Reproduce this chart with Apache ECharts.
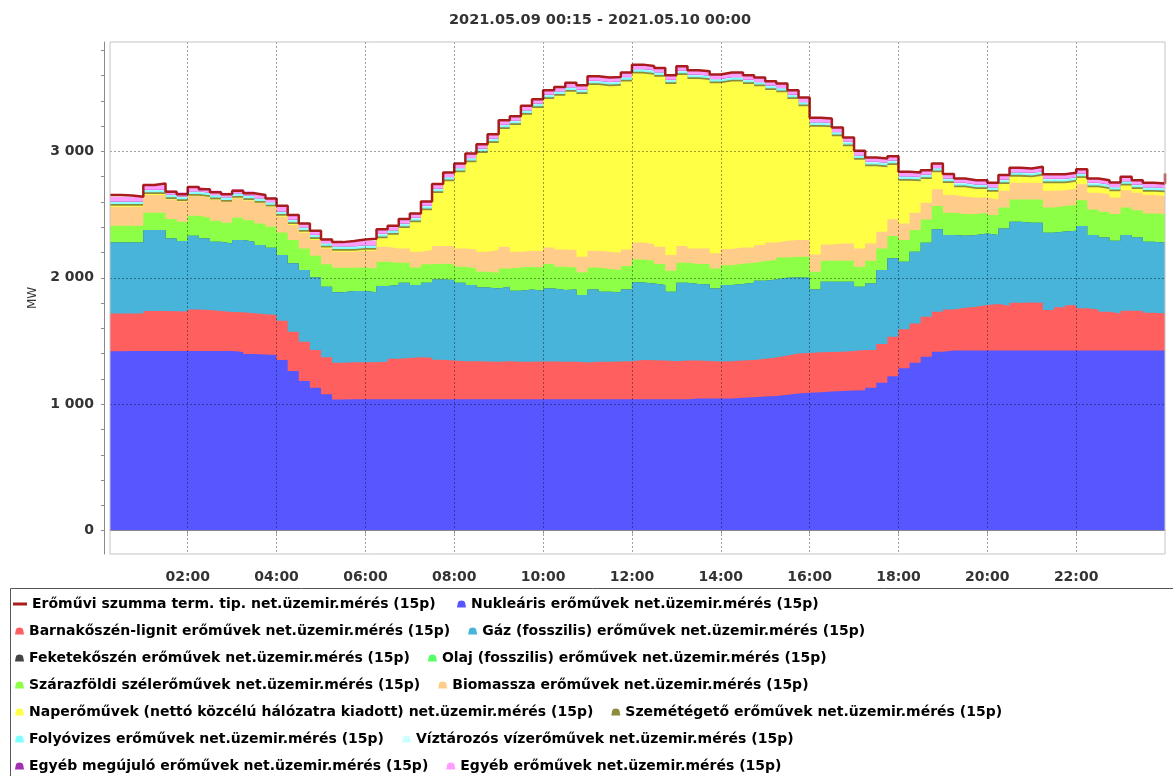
<!DOCTYPE html>
<html>
<head>
<meta charset="utf-8">
<script src="https://cdn.jsdelivr.net/npm/echarts@6/dist/echarts.min.js"></script>
<style>
  html, body { margin: 0; padding: 0; background: #ffffff; }
  #chart { width: 1173px; height: 776px; }
</style>
</head>
<body>
<div id="chart"></div>
<script>
// Hungarian generation mix, 15-minute net operational measurements (MW)
const chartTitle = '2021.05.09 00:15 - 2021.05.10 00:00';
const firstMinute = 15;      // first interval ends at 00:15
const stepMinutes = 15;
const pointCount = 96;
const hourTickLabels = ['02:00', '04:00', '06:00', '08:00', '10:00', '12:00', '14:00', '16:00', '18:00', '20:00', '22:00'];
const yMajorTicks = [0, 1000, 2000, 3000];
const yMinorTicks = [200, 400, 600, 800, 1200, 1400, 1600, 1800, 2200, 2400, 2600, 2800, 3200, 3400, 3600, 3800];

const total = [
  2655, 2650, 2640, 2733, 2746, 2680, 2661, 2719, 2700, 2677, 2661, 2688,
  2668, 2655, 2628, 2570, 2496, 2430, 2372, 2303, 2282, 2290, 2303, 2308,
  2383, 2411, 2464, 2509, 2604, 2741, 2833, 2904, 2983, 3057, 3136, 3247,
  3278, 3360, 3413, 3484, 3510, 3542, 3523, 3594, 3584, 3589, 3623, 3686,
  3676, 3660, 3602, 3673, 3642, 3634, 3608, 3623, 3623, 3602, 3584, 3555,
  3537, 3484, 3426, 3265, 3260, 3189, 3110, 3004, 2952, 2944, 2962, 2838,
  2833, 2851, 2904, 2820, 2786, 2772, 2772, 2751, 2812, 2870, 2865, 2878,
  2818, 2818, 2830, 2859, 2786, 2772, 2754, 2799, 2772, 2751, 2746, 2825
];
const nuclear = [
  1418, 1420, 1420, 1420, 1420, 1420, 1420, 1420, 1420, 1420, 1420, 1413,
  1397, 1394, 1389, 1349, 1262, 1183, 1130, 1078, 1038, 1040, 1040, 1040,
  1040, 1040, 1040, 1040, 1040, 1040, 1040, 1040, 1040, 1040, 1040, 1040,
  1040, 1040, 1040, 1040, 1040, 1040, 1040, 1040, 1040, 1040, 1040, 1040,
  1040, 1040, 1040, 1040, 1045, 1045, 1045, 1045, 1050, 1055, 1060, 1065,
  1075, 1085, 1090, 1095, 1100, 1105, 1108, 1110, 1130, 1170, 1222, 1284,
  1328, 1376, 1415, 1425, 1425, 1425, 1425, 1425, 1425, 1425, 1425, 1425,
  1425, 1425, 1425, 1425, 1425, 1425, 1425, 1425, 1425, 1425, 1425, 1425
];
const lignite = [
  300, 298, 298, 317, 317, 315, 313, 330, 325, 318, 310, 315,
  323, 318, 316, 311, 311, 311, 298, 293, 290, 291, 291, 291,
  296, 320, 325, 332, 328, 312, 305, 300, 300, 298, 295, 300,
  295, 295, 298, 298, 295, 295, 290, 295, 295, 298, 300, 310,
  308, 305, 300, 305, 300, 297, 293, 295, 295, 295, 300, 305,
  310, 315, 315, 315, 312, 310, 312, 318, 298, 306, 312, 308,
  311, 316, 316, 325, 338, 346, 359, 367, 354, 378, 380, 378,
  320, 341, 357, 333, 325, 306, 293, 315, 315, 299, 293, 293
];
const gas = [
  562, 562, 562, 640, 640, 576, 557, 582, 566, 547, 542, 570,
  565, 547, 532, 520, 541, 567, 575, 558, 557, 564, 564, 554,
  598, 582, 595, 570, 592, 635, 637, 620, 602, 586, 581, 589,
  562, 573, 559, 578, 568, 573, 533, 573, 555, 547, 568, 613,
  607, 597, 550, 615, 605, 605, 578, 602, 605, 610, 616, 617,
  615, 603, 595, 498, 556, 553, 548, 501, 527, 585, 621, 535,
  567, 585, 652, 588, 569, 567, 567, 546, 611, 640, 630, 632,
  611, 601, 590, 651, 588, 588, 575, 598, 579, 561, 559, 559
];
const blackCoal = [
  0, 0, 0, 0, 0, 0, 0, 0, 0, 0, 0, 0,
  0, 0, 0, 0, 0, 0, 0, 0, 0, 0, 0, 0,
  0, 0, 0, 0, 0, 0, 0, 0, 0, 0, 0, 0,
  0, 0, 0, 0, 0, 0, 0, 0, 0, 0, 0, 0,
  0, 0, 0, 0, 0, 0, 0, 0, 0, 0, 0, 0,
  0, 0, 0, 0, 0, 0, 0, 0, 0, 0, 0, 0,
  0, 0, 0, 0, 0, 0, 0, 0, 0, 0, 0, 0,
  0, 0, 0, 0, 0, 0, 0, 0, 0, 0, 0, 0
];
const oil = [
  0, 0, 0, 0, 0, 0, 0, 0, 0, 0, 0, 0,
  0, 0, 0, 0, 0, 0, 0, 0, 0, 0, 0, 0,
  0, 0, 0, 0, 0, 0, 0, 0, 0, 0, 0, 0,
  0, 0, 0, 0, 0, 0, 0, 0, 0, 0, 0, 0,
  0, 0, 0, 0, 0, 0, 0, 0, 0, 0, 0, 0,
  0, 0, 0, 0, 0, 0, 0, 0, 0, 0, 0, 0,
  0, 0, 0, 0, 0, 0, 0, 0, 0, 0, 0, 0,
  0, 0, 0, 0, 0, 0, 0, 0, 0, 0, 0, 0
];
const wind = [
  131, 131, 131, 137, 137, 153, 153, 158, 164, 166, 163, 177,
  171, 171, 167, 179, 184, 171, 171, 177, 194, 184, 187, 189,
  193, 177, 159, 140, 146, 124, 124, 127, 132, 124, 124, 145,
  185, 179, 185, 192, 184, 174, 180, 174, 179, 176, 185, 182,
  180, 166, 166, 159, 158, 161, 158, 158, 161, 159, 156, 153,
  161, 163, 166, 140, 167, 167, 167, 158, 180, 171, 176, 171,
  171, 184, 184, 176, 172, 166, 163, 158, 166, 177, 185, 185,
  200, 200, 203, 205, 203, 203, 211, 218, 216, 224, 227, 227
];
const biomass = [
  150, 150, 150, 140, 140, 156, 161, 156, 160, 166, 164, 155,
  156, 161, 157, 123, 119, 124, 124, 126, 127, 127, 132, 140,
  118, 113, 113, 124, 113, 140, 145, 145, 150, 158, 179, 171,
  124, 127, 129, 132, 137, 137, 123, 132, 137, 139, 131, 135,
  132, 137, 124, 132, 124, 124, 119, 127, 129, 121, 127, 140,
  132, 132, 132, 137, 129, 137, 137, 145, 137, 132, 132, 132,
  137, 132, 134, 140, 137, 131, 121, 124, 132, 131, 131, 131,
  132, 126, 132, 126, 131, 140, 131, 137, 137, 145, 142, 142
];
const solar = [
  8, 8, 8, 8, 8, 3, 3, 3, 3, 3, 3, 3,
  3, 3, 3, 8, 8, 8, 8, 8, 8, 8, 8, 8,
  68, 109, 162, 233, 315, 420, 512, 602, 689, 781, 847, 932,
  1002, 1076, 1132, 1174, 1216, 1253, 1287, 1310, 1308, 1319, 1329, 1336,
  1339, 1345, 1352, 1352, 1340, 1332, 1345, 1326, 1313, 1292, 1255, 1205,
  1174, 1116, 1058, 1010, 926, 847, 768, 702, 610, 510, 429, 338,
  249, 188, 133, 96, 75, 67, 67, 61, 54, 49, 44, 57,
  60, 55, 53, 49, 44, 40, 49, 36, 30, 27, 30, 30
];
const waste = [
  14, 14, 14, 14, 14, 14, 14, 14, 14, 14, 14, 14,
  14, 14, 14, 14, 14, 14, 14, 14, 14, 14, 14, 14,
  14, 14, 14, 14, 14, 14, 14, 14, 14, 14, 14, 14,
  14, 14, 14, 14, 14, 14, 14, 14, 14, 14, 14, 14,
  14, 14, 14, 14, 14, 14, 14, 14, 14, 14, 14, 14,
  14, 14, 14, 14, 14, 14, 14, 14, 14, 14, 14, 14,
  14, 14, 14, 14, 14, 14, 14, 14, 14, 14, 14, 14,
  14, 14, 14, 14, 14, 14, 14, 14, 14, 14, 14, 14
];
const runOfRiver = [
  14, 14, 14, 14, 14, 14, 14, 14, 14, 14, 14, 14,
  14, 14, 14, 14, 14, 14, 14, 14, 14, 14, 14, 14,
  14, 14, 14, 14, 14, 14, 14, 14, 14, 14, 14, 14,
  14, 14, 14, 14, 14, 14, 14, 14, 14, 14, 14, 14,
  14, 14, 14, 14, 14, 14, 14, 14, 14, 14, 14, 14,
  14, 14, 14, 14, 14, 14, 14, 14, 14, 14, 14, 14,
  14, 14, 14, 14, 14, 14, 14, 14, 14, 14, 14, 14,
  14, 14, 14, 14, 14, 14, 14, 14, 14, 14, 14, 14
];
const reservoir = [
  5, 5, 5, 5, 5, 5, 5, 5, 5, 5, 5, 5,
  5, 5, 5, 5, 5, 5, 5, 5, 5, 5, 5, 5,
  5, 5, 5, 5, 5, 5, 5, 5, 5, 5, 5, 5,
  5, 5, 5, 5, 5, 5, 5, 5, 5, 5, 5, 5,
  5, 5, 5, 5, 5, 5, 5, 5, 5, 5, 5, 5,
  5, 5, 5, 5, 5, 5, 5, 5, 5, 5, 5, 5,
  5, 5, 5, 5, 5, 5, 5, 5, 5, 5, 5, 5,
  5, 5, 5, 5, 5, 5, 5, 5, 5, 5, 5, 5
];
const otherRenewable = [
  2, 2, 2, 2, 2, 2, 2, 2, 2, 2, 2, 2,
  2, 2, 2, 2, 2, 2, 2, 2, 2, 2, 2, 2,
  2, 2, 2, 2, 2, 2, 2, 2, 2, 2, 2, 2,
  2, 2, 2, 2, 2, 2, 2, 2, 2, 2, 2, 2,
  2, 2, 2, 2, 2, 2, 2, 2, 2, 2, 2, 2,
  2, 2, 2, 2, 2, 2, 2, 2, 2, 2, 2, 2,
  2, 2, 2, 2, 2, 2, 2, 2, 2, 2, 2, 2,
  2, 2, 2, 2, 2, 2, 2, 2, 2, 2, 2, 2
];
const other = [
  35, 35, 35, 35, 35, 35, 35, 35, 35, 35, 35, 35,
  35, 35, 35, 35, 35, 35, 35, 35, 35, 35, 35, 35,
  35, 35, 35, 35, 35, 35, 35, 35, 35, 35, 35, 35,
  35, 35, 35, 35, 35, 35, 35, 35, 35, 35, 35, 35,
  35, 35, 35, 35, 35, 35, 35, 35, 35, 35, 35, 35,
  35, 35, 35, 35, 35, 35, 35, 35, 35, 35, 35, 35,
  35, 35, 35, 35, 35, 35, 35, 35, 35, 35, 35, 35,
  35, 35, 35, 35, 35, 35, 35, 35, 35, 35, 35, 35
];

// Series names (legend texts) and colours, bottom of the stack first
const totalName = 'Erőművi szumma term. tip. net.üzemir.mérés (15p)';
const stackNames = [
  'Nukleáris erőművek net.üzemir.mérés (15p)',
  'Barnakőszén-lignit erőművek net.üzemir.mérés (15p)',
  'Gáz (fosszilis) erőművek net.üzemir.mérés (15p)',
  'Feketekőszén erőművek net.üzemir.mérés (15p)',
  'Olaj (fosszilis) erőművek net.üzemir.mérés (15p)',
  'Szárazföldi szélerőművek net.üzemir.mérés (15p)',
  'Biomassza erőművek net.üzemir.mérés (15p)',
  'Naperőművek (nettó közcélú hálózatra kiadott) net.üzemir.mérés (15p)',
  'Szemétégető erőművek net.üzemir.mérés (15p)',
  'Folyóvizes erőművek net.üzemir.mérés (15p)',
  'Víztározós vízerőművek net.üzemir.mérés (15p)',
  'Egyéb megújuló erőművek net.üzemir.mérés (15p)',
  'Egyéb erőművek net.üzemir.mérés (15p)'
];
const stackValues = [nuclear, lignite, gas, blackCoal, oil, wind, biomass, solar, waste, runOfRiver, reservoir, otherRenewable, other];
const stackColors = ['#5757ff', '#ff5f5f', '#49b4d9', '#444444', '#55ff66', '#8cff46', '#ffcd89', '#ffff46', '#8c8c3c', '#80ffff', '#ccffff', '#a030b0', '#ff9cff'];
const totalColor = '#a81c1c';

function minutesToHHMM(m) {
  const h = Math.floor(m / 60) % 24, mm = m % 60;
  return String(h).padStart(2, '0') + ':' + String(mm).padStart(2, '0');
}
function spaced(v) {
  return String(v).replace(/\B(?=(\d{3})+(?!\d))/g, ' ');
}

// quarter-hour time stamps 00:15 ... 24:00 (shown as 00:00)
const times = [];
for (let i = 0; i < pointCount; i++) times.push(minutesToHHMM(firstMinute + i * stepMinutes));
const isHourTick = (idx, value) => hourTickLabels.indexOf(value) >= 0 && idx < pointCount - 1;

// Running totals: layer i is filled from zero up to the sum of layers 0..i.
// Upper layers are drawn first, each lower layer is painted over them, so every
// boundary is a clean stepped edge.
const runningTotals = [];
stackValues.forEach((values, i) => {
  runningTotals.push(values.map((v, k) => v + (i > 0 ? runningTotals[i - 1][k] : 0)));
});

const FONT = 'DejaVu Sans';
const axisGrey = '#8a8a8a';
const legendText = { fontFamily: FONT, fontWeight: 'bold', fontSize: 14, color: '#000' };
const dome = 'path://M0,8 L0.8,3.6 C1.6,0.4 7.4,0.4 8.2,3.6 L9,8 Z';

const series = [];
for (let i = stackNames.length - 1; i >= 0; i--) {
  series.push({
    name: stackNames[i],
    type: 'line',
    step: 'end',
    symbol: 'none',
    silent: true,
    data: runningTotals[i],
    lineStyle: { width: 0 },
    itemStyle: { color: stackColors[i] },
    areaStyle: { color: stackColors[i], opacity: 1, origin: 0 },
    z: 2
  });
}
series.push({
  name: totalName,
  type: 'line',
  step: 'end',
  symbol: 'none',
  silent: true,
  data: total,
  lineStyle: { color: totalColor, width: 2.5 },
  itemStyle: { color: totalColor },
  z: 4
});

const rowY = [604, 631, 658, 685, 712, 739, 766];
const legendBase = {
  orient: 'horizontal', padding: 0, selectedMode: false,
  itemWidth: 9, itemHeight: 8, itemGap: 18, icon: dome,
  textStyle: legendText
};
const legends = [
  Object.assign({}, legendBase, { left: 13, top: rowY[0] - 7, itemWidth: 14, itemHeight: 3, icon: 'rect', data: [totalName] }),
  Object.assign({}, legendBase, { left: 457, top: rowY[0] - 7, data: [stackNames[0]] })
];
for (let r = 1; r < 7; r++) {
  legends.push(Object.assign({}, legendBase, {
    left: 15, top: rowY[r] - 7,
    data: [stackNames[2 * r - 1], stackNames[2 * r]]
  }));
}

const gridLineStyle = { color: 'rgba(0,0,0,0.38)', width: 1, type: [2, 2] };

const option = {
  animation: false,
  backgroundColor: '#ffffff',
  title: {
    text: chartTitle, left: 595, top: 8, textAlign: 'center',
    textStyle: { fontFamily: FONT, fontWeight: 'bold', fontSize: 14.5, color: '#333' }
  },
  grid: {
    left: 110, right: 8, top: 42, bottom: 222, z: 6,
    show: true, borderColor: '#c4c4c4', borderWidth: 1, backgroundColor: 'transparent',
    outerBoundsMode: 'none'
  },
  legend: legends,
  xAxis: {
    type: 'category', data: times, boundaryGap: false, position: 'bottom', offset: 7, z: 5,
    axisLine: { show: true, lineStyle: { color: axisGrey, width: 1 } },
    axisTick: { show: true, length: 3, interval: isHourTick, lineStyle: { color: axisGrey } },
    axisLabel: {
      interval: isHourTick, margin: 9,
      fontFamily: FONT, fontWeight: 'bold', fontSize: 14, color: '#333'
    },
    splitLine: { show: true, interval: isHourTick, lineStyle: gridLineStyle }
  },
  yAxis: [
    {
      type: 'value', min: -185, max: 3865, position: 'left', offset: 6, z: 5,
      name: 'MW', nameLocation: 'middle', nameRotate: 90, nameGap: 64,
      nameTextStyle: { fontFamily: FONT, fontSize: 12, color: '#333' },
      axisLine: { show: true, lineStyle: { color: axisGrey, width: 1 } },
      axisTick: { show: true, length: 3, customValues: yMajorTicks, lineStyle: { color: axisGrey } },
      axisLabel: {
        customValues: yMajorTicks, margin: 10, formatter: v => spaced(v),
        fontFamily: FONT, fontWeight: 'bold', fontSize: 14, color: '#333'
      },
      splitLine: { show: true, lineStyle: gridLineStyle }
    },
    {
      type: 'value', min: -185, max: 3865, position: 'left', offset: 6, z: 5,
      axisLine: { show: false },
      axisTick: { show: true, length: 3, customValues: yMinorTicks, lineStyle: { color: axisGrey } },
      axisLabel: { show: false },
      splitLine: { show: false }
    }
  ],
  graphic: [{
    type: 'rect', z: 0, silent: true,
    shape: { x: 10.5, y: 588.5, width: 1200, height: 220 },
    style: { fill: 'none', stroke: '#555', lineWidth: 1 }
  }],
  series: series
};

const chart = echarts.init(document.getElementById('chart'), null, { renderer: 'canvas' });
chart.setOption(option);
</script>
</body>
</html>
